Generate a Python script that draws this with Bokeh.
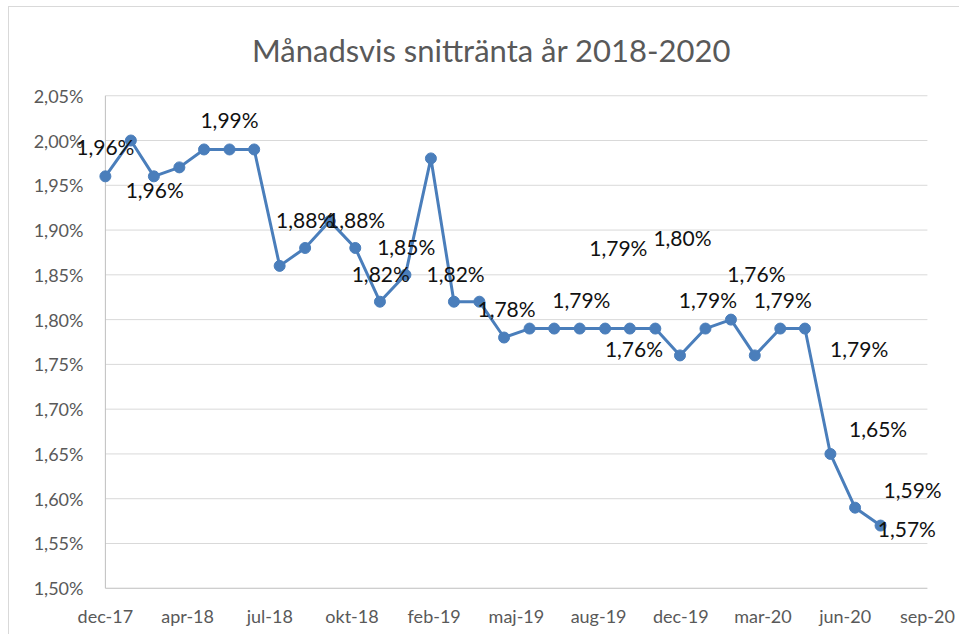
import pandas as pd
from bokeh.plotting import figure
from bokeh.models import Range1d, FixedTicker, ColumnDataSource, Label, Div
from bokeh.layouts import column
from bokeh.embed import file_html
from bokeh.resources import INLINE

# Monthly data points (month-end dates)
dates = ["2017-12-31", "2018-01-31", "2018-02-28", "2018-03-31", "2018-04-30", "2018-05-31",
         "2018-06-30", "2018-07-31", "2018-08-31", "2018-09-30", "2018-10-31", "2018-11-30",
         "2018-12-31", "2019-01-31", "2019-02-28", "2019-03-31", "2019-04-30", "2019-05-31",
         "2019-06-30", "2019-07-31", "2019-08-31", "2019-09-30", "2019-10-31", "2019-11-30",
         "2019-12-31", "2020-01-31", "2020-02-29", "2020-03-31", "2020-04-30", "2020-05-31",
         "2020-06-30", "2020-07-31"]
rates = [1.96, 2.00, 1.96, 1.97, 1.99, 1.99,
         1.99, 1.86, 1.88, 1.91, 1.88, 1.82,
         1.85, 1.98, 1.82, 1.82, 1.78, 1.79,
         1.79, 1.79, 1.79, 1.79, 1.79, 1.76,
         1.79, 1.80, 1.76, 1.79, 1.79, 1.65,
         1.59, 1.57]

# Axis ticks
x_tick_labels = ["dec-17", "apr-18", "jul-18", "okt-18", "feb-19", "maj-19",
                 "aug-19", "dec-19", "mar-20", "jun-20", "sep-20"]
x_tick_step_days = 100
y_ticks = [1.50, 1.55, 1.60, 1.65, 1.70, 1.75, 1.80, 1.85, 1.90, 1.95, 2.00, 2.05]
y_tick_labels = ["1,50%", "1,55%", "1,60%", "1,65%", "1,70%", "1,75%",
                 "1,80%", "1,85%", "1,90%", "1,95%", "2,00%", "2,05%"]

# Data labels (as placed in the original chart)
label_texts = ["1,96%", "1,96%", "1,99%", "1,88%", "1,88%", "1,85%", "1,82%", "1,82%",
               "1,78%", "1,79%", "1,79%", "1,80%", "1,76%", "1,79%", "1,79%", "1,76%",
               "1,79%", "1,65%", "1,59%", "1,57%"]
label_dates = ["2017-12-31", "2018-03-01", "2018-05-31", "2018-08-31", "2018-11-01", "2019-01-01",
               "2018-12-01", "2019-03-02", "2019-05-03", "2019-08-02", "2019-09-16", "2019-12-03",
               "2020-03-02", "2020-01-03", "2020-04-03", "2019-10-05", "2020-07-05", "2020-07-28",
               "2020-09-08", "2020-09-01"]
label_vals = [1.993, 1.945, 2.023, 1.912, 1.912, 1.882, 1.852, 1.852,
              1.812, 1.822, 1.880, 1.892, 1.852, 1.822, 1.822, 1.768,
              1.768, 1.678, 1.610, 1.567]

title_text = "Månadsvis snittränta år 2018-2020"

start = pd.Timestamp(dates[0])
xs = [(pd.Timestamp(d) - start).days for d in dates]
lxs = [(pd.Timestamp(d) - start).days for d in label_dates]
x_ticks = [i * x_tick_step_days for i in range(len(x_tick_labels))]

FONT = "Lato"
GRAY = "#595959"
AXIS_COLOR = "#bfbfbf"
GRID_COLOR = "#d9d9d9"

# padding of the drawing frame so that outlying data labels are not clipped
PAD_L, PAD_R, PAD_Y = 40, 22, 0.0025

TITLE_H = 60
title_div = Div(
    text=(f'<div style="padding:20px 0 0 238px; font-family:{FONT}; font-size:31px; '
          f'line-height:1.2; color:{GRAY}; white-space:nowrap;">{title_text}</div>'),
    width=946, height=TITLE_H)

p = figure(width=946, height=557, output_backend="svg", toolbar_location=None,
           x_range=Range1d(x_ticks[0] - PAD_L, x_ticks[-1] + PAD_R),
           y_range=Range1d(y_ticks[0] - PAD_Y, y_ticks[-1] + PAD_Y),
           min_border_left=63, min_border_right=10, min_border_top=16,
           min_border_bottom=44)
p.outline_line_color = None
p.background_fill_color = "white"
p.border_fill_color = "white"

p.xaxis.ticker = FixedTicker(ticks=x_ticks)
p.xaxis.major_label_overrides = {t: l for t, l in zip(x_ticks, x_tick_labels)}
p.yaxis.ticker = FixedTicker(ticks=y_ticks)
p.yaxis.major_label_overrides = {t: l for t, l in zip(y_ticks, y_tick_labels)}
for ax in (p.xaxis, p.yaxis):
    ax.axis_line_color = None
    ax.major_tick_line_color = None
    ax.minor_tick_line_color = None
    ax.major_tick_out = 0
    ax.major_tick_in = 0
    ax.major_label_text_font = FONT
    ax.major_label_text_color = GRAY
    ax.major_label_text_font_size = "18px"
p.xaxis.major_label_standoff = 14
p.yaxis.major_label_standoff = -11

p.xgrid.grid_line_color = None
p.ygrid.grid_line_color = None

# horizontal gridlines over the axis span, bottom one is the axis line
n = len(y_ticks)
p.segment(x0=[x_ticks[0]] * n, x1=[x_ticks[-1]] * n, y0=y_ticks, y1=y_ticks,
          line_color=[AXIS_COLOR] + [GRID_COLOR] * (n - 1), line_width=1)
# vertical axis line
p.segment(x0=[x_ticks[0]], x1=[x_ticks[0]], y0=[y_ticks[0]], y1=[y_ticks[-1]],
          line_color=AXIS_COLOR, line_width=1)

src = ColumnDataSource(dict(x=xs, y=rates))
p.line("x", "y", source=src, line_color="#4a7ebb", line_width=3)
p.scatter("x", "y", source=src, size=11, fill_color="#4a7ebb", line_color="#4a7ebb")

for lx, ly, lt in zip(lxs, label_vals, label_texts):
    p.add_layout(Label(x=lx, y=ly, text=lt, text_font=FONT, text_font_size="21px",
                       text_color="#111111", text_align="center", text_baseline="middle"))

layout = column(title_div, p, spacing=0)
layout.styles = {"margin-left": "8px", "margin-top": "6px", "background": "white",
                 "border-top": "1px solid #d9d9d9", "border-left": "1px solid #d9d9d9"}

open("out.html", "w").write(file_html(layout, INLINE))
